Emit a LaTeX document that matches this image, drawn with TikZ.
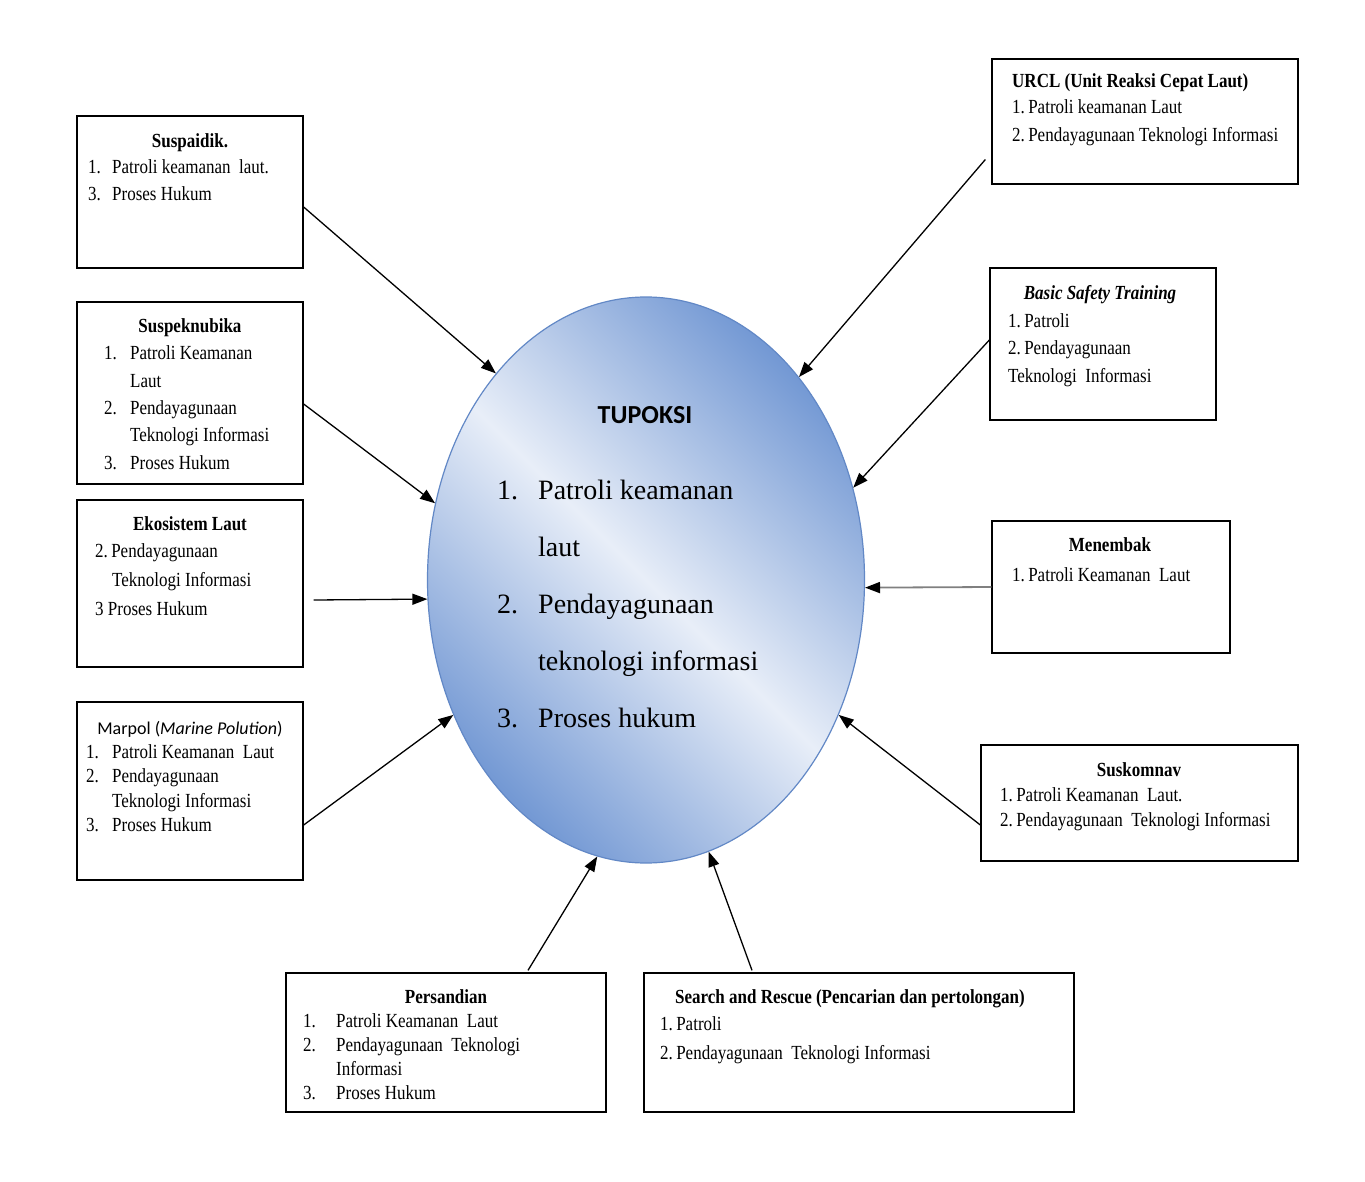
\documentclass[tikz,border=0pt]{standalone}
\usepackage{fontspec}
\setmainfont{Liberation Serif}
\newfontfamily\bxf[FakeStretch=0.85]{Liberation Serif}
\newfontfamily\clb{Carlito}
\usetikzlibrary{shapes.geometric,arrows.meta,calc}
\definecolor{elldark}{RGB}{116,153,212}
\definecolor{elllight}{RGB}{232,238,248}
\definecolor{ellline}{RGB}{98,136,198}
\definecolor{arrgray}{RGB}{128,128,128}
\newcommand\nm[2][24pt]{\makebox[#1][l]{#2}}
\begin{document}
\begin{tikzpicture}[x=1pt,y=-1pt,
 box/.style={draw=black, line width=1.3pt, rectangle, inner sep=0pt},
 ttl/.style={anchor=base, inner sep=0pt, font=\bxf\fontsize{20}{24}\selectfont\bfseries},
 lst/.style={anchor=base west, inner sep=0pt, align=left, font=\bxf\fontsize{20}{#1}\selectfont},
 arr/.style={line width=1.3pt, -{Triangle[length=15pt,width=11pt]}},
]
\useasboundingbox (0,0) rectangle (1365,1182);
\fill[white] (0,0) rectangle (1365,1182);

% central ellipse
\node[ellipse, draw=ellline, line width=1.2pt, minimum width=437pt, minimum height=566pt, inner sep=0pt,
  top color=elldark, bottom color=elldark, middle color=elllight, shading angle=-45] (c) at (646,580) {};
\node[anchor=base, inner sep=0pt, font=\clb\fontsize{26}{30}\selectfont\bfseries] (ctt) at (645,423) {TUPOKSI};
% anchor base = baseline of the last line
\node[anchor=base west, inner sep=0pt, align=left, font=\fontsize{28}{57}\selectfont] (ctl) at (497,727)
 {\nm[41pt]{1.}Patroli keamanan\\ \hspace*{41pt}laut\\ \nm[41pt]{2.}Pendayagunaan\\ \hspace*{41pt}teknologi informasi\\ \nm[41pt]{3.}Proses hukum};

% Suspaidik
\node[box, minimum width=226pt, minimum height=152pt] (b1) at (190,192) {};
\node[ttl] (t1) at (190,148) {Suspaidik.};
\node[lst=27] (l1) at (88,201) {\nm{1.}Patroli keamanan\ \ laut.\\ \nm{3.}Proses Hukum};

% Suspeknubika
\node[box, minimum width=226pt, minimum height=182pt] (b2) at (190,393) {};
\node[ttl] (t2) at (190,332) {Suspeknubika};
\node[lst=27.3] (l2) at (104,469) {\nm[26pt]{1.}Patroli Keamanan\\ \hspace*{26pt}Laut\\ \nm[26pt]{2.}Pendayagunaan\\ \hspace*{26pt}Teknologi Informasi\\ \nm[26pt]{3.}Proses Hukum};

% Ekosistem Laut
\node[box, minimum width=226pt, minimum height=167pt] (b3) at (190,583.5) {};
\node[ttl] (t3) at (190,530) {Ekosistem Laut};
\node[lst=29] (l3) at (95,615) {2.\,Pendayagunaan\\ \hspace*{17pt}Teknologi Informasi\\ 3 Proses Hukum};

% Marpol
\node[box, minimum width=226pt, minimum height=178pt] (b4) at (190,791) {};
\node[anchor=base, inner sep=0pt, font=\clb\fontsize{18}{22}\selectfont] (t4) at (190,734) {Marpol (\textit{Marine Polution})};
\node[lst=24.5] (l4) at (86,831.5) {\nm[26pt]{1.}Patroli Keamanan\ \ Laut\\ \nm[26pt]{2.}Pendayagunaan\\ \hspace*{26pt}Teknologi Informasi\\ \nm[26pt]{3.}Proses Hukum};

% Persandian
\node[box, minimum width=320pt, minimum height=139pt] (b5) at (446,1042.5) {};
\node[ttl] (t5) at (446,1003) {Persandian};
\node[lst=24] (l5) at (303,1099) {\nm[33pt]{1.}Patroli Keamanan\ \ Laut\\ \nm[33pt]{2.}Pendayagunaan\ \ Teknologi\\ \hspace*{33pt}Informasi\\ \nm[33pt]{3.}Proses Hukum};

% Search and Rescue
\node[box, minimum width=430pt, minimum height=139pt] (b6) at (859,1042.5) {};
\node[ttl] (t6) at (850,1003) {Search and Rescue (Pencarian dan pertolongan)};
\node[lst=29] (l6) at (660,1059) {1.\,Patroli\\ 2.\,Pendayagunaan\ \ Teknologi\ Informasi};

% URCL
\node[box, minimum width=306pt, minimum height=125pt] (b7) at (1145,121.5) {};
\node[ttl, anchor=base west] (t7) at (1012,88) {URCL (Unit Reaksi Cepat Laut)};
\node[lst=28] (l7) at (1012,142) {1.\,Patroli keamanan Laut\\ 2.\,Pendayagunaan Teknologi Informasi};

% Basic Safety Training
\node[box, minimum width=226pt, minimum height=152pt] (b8) at (1103,344) {};
\node[ttl, font=\bxf\fontsize{20}{24}\selectfont\bfseries\itshape] (t8) at (1100,299) {Basic Safety Training};
\node[lst=27.5] (l8) at (1008,382) {1.\,Patroli\\ 2.\,Pendayagunaan\\ Teknologi\ \ Informasi};

% Menembak
\node[box, minimum width=238pt, minimum height=132pt] (b9) at (1111,587) {};
\node[ttl] (t9) at (1110,551) {Menembak};
\node[lst=28] (l9) at (1012,581) {1.\,Patroli Keamanan\ \ Laut};

% Suskomnav
\node[box, minimum width=317pt, minimum height=116pt] (b10) at (1139.5,803) {};
\node[ttl] (t10) at (1139,776) {Suskomnav};
\node[lst=25] (l10) at (1000,826) {1.\,Patroli Keamanan\ \ Laut.\\ 2.\,Pendayagunaan\ \ Teknologi\ Informasi};

% connectors
\draw[arr] ($(b1.east)+(0,15)$) -- (c.126);
\draw[arr] ($(b2.east)+(0,11)$) -- (c.160);
\draw[arr] ($(b3.east)+(10,16.5)$) -- (c.185);
\draw[arr] ($(b4.east)+(0,34)$) -- (c.215);
\draw[arr] ($(b5.north)+(82,-2)$) -- (c.260);
\draw[arr] ($(b6.north)+(-107,-2)$) -- (c.283.5);
\draw[arr] ($(b7.west)+(-6,38)$) -- (c.53.4);
\draw[arr] ($(b8.west)+(0,-4)$) -- (c.24);
\draw[line width=1.8pt, draw=arrgray, -{Triangle[length=15pt,width=11pt,color=black]}] (b9.west) -- (c.-2);
\draw[arr] ($(b10.west)+(0,22)$) -- (c.-35);
\end{tikzpicture}
\end{document}
